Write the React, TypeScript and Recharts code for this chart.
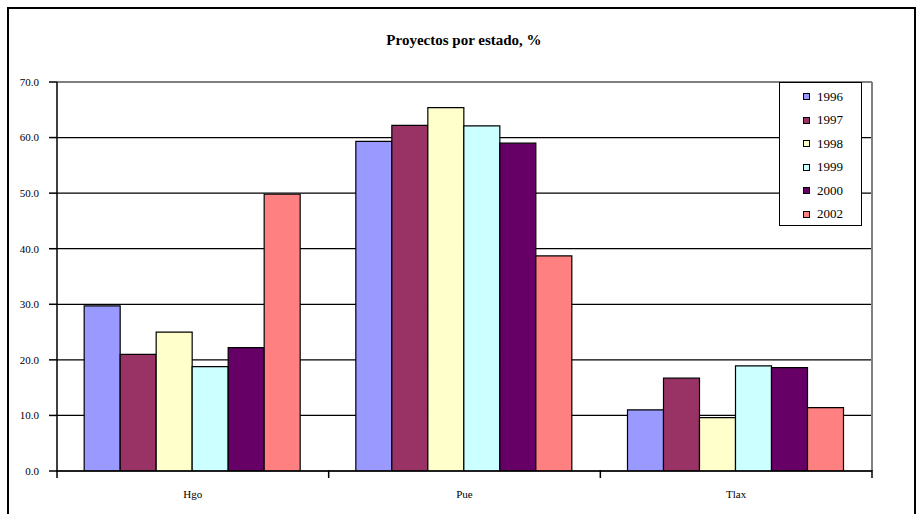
import React from "react";
import {
  BarChart,
  Bar,
  XAxis,
  YAxis,
  CartesianGrid,
  ReferenceLine,
} from "recharts";

const categories = ["Hgo", "Pue", "Tlax"];
const years = ["1996", "1997", "1998", "1999", "2000", "2002"];
const v1996 = [29.7, 59.3, 11.0];
const v1997 = [21.0, 62.2, 16.7];
const v1998 = [25.0, 65.4, 9.6];
const v1999 = [18.8, 62.1, 18.9];
const v2000 = [22.2, 59.0, 18.6];
const v2002 = [49.8, 38.7, 11.4];
const yTicks = [0, 10, 20, 30, 40, 50, 60, 70];
const colors = ["#9999FF", "#993366", "#FFFFCC", "#CCFFFF", "#660066", "#FF8080"];

const seriesValues = [v1996, v1997, v1998, v1999, v2000, v2002];

const data = categories.map((c, i) => {
  const row: Record<string, any> = { name: c };
  years.forEach((y, k) => {
    row[y] = seriesValues[k][i];
  });
  return row;
});

const FONT = "'Liberation Serif', 'Times New Roman', serif";

const XTick = (props: any) => {
  const { x, y, payload, index, width } = props;
  const half =
    payload && typeof payload.offset === "number" && payload.offset > 0
      ? payload.offset
      : width / categories.length / 2;
  const isLast = index === categories.length - 1;
  return (
    <g>
      <line x1={x - half} x2={x - half} y1={y - 1} y2={y + 7} stroke="#000" strokeWidth={1.5} />
      {isLast && (
        <line x1={x + half} x2={x + half} y1={y - 1} y2={y + 7} stroke="#000" strokeWidth={1.5} />
      )}
      <text
        x={x}
        y={y + 27}
        textAnchor="middle"
        fontSize={11}
        fontFamily={FONT}
        fill="#000"
      >
        {payload.value}
      </text>
    </g>
  );
};

const LegendBox = () => (
  <div
    style={{
      position: "absolute",
      left: 779,
      top: 82,
      width: 83,
      height: 144,
      border: "1px solid #000",
      background: "#fff",
      boxSizing: "border-box",
      paddingTop: 2,
      fontFamily: FONT,
      fontSize: 13,
      color: "#000",
    }}
  >
    {years.map((y, i) => (
      <div
        key={y}
        style={{
          height: 23.5,
          display: "flex",
          alignItems: "center",
          paddingLeft: 23,
        }}
      >
        <span
          style={{
            display: "inline-block",
            width: 5,
            height: 5,
            border: "1px solid #000",
            background: colors[i],
            marginRight: 7,
          }}
        />
        <span>{y}</span>
      </div>
    ))}
  </div>
);

export default function App() {
  return (
    <div
      style={{
        position: "absolute",
        left: 0,
        top: 0,
        width: 919,
        height: 514,
        overflow: "hidden",
        background: "#fff",
      }}
    >
      <div
        style={{
          position: "absolute",
          left: 7,
          top: 7,
          width: 909,
          height: 600,
          border: "2px solid #000",
          boxSizing: "border-box",
        }}
      />
      <div
        style={{
          position: "absolute",
          left: 0,
          top: 32,
          width: 928,
          textAlign: "center",
          fontFamily: FONT,
          fontWeight: "bold",
          fontSize: 15,
          color: "#000",
        }}
      >
        Proyectos por estado, %
      </div>
      <div style={{ position: "absolute", left: 0, top: 0 }}>
        <BarChart
          width={919}
          height={514}
          data={data}
          margin={{ top: 82, right: 46, bottom: 13, left: 7 }}
          barCategoryGap="10%"
          barGap={0}
        >
          <CartesianGrid vertical={false} stroke="#000" strokeWidth={1.2} yAxisId="l" />
          <XAxis
            dataKey="name"
            height={30}
            tickLine={false}
            tickSize={0}
            tickMargin={0}
            axisLine={{ stroke: "#000", strokeWidth: 1.5 }}
            tick={<XTick />}
            interval={0}
          />
          <YAxis
            yAxisId="l"
            width={50}
            domain={[0, 70]}
            ticks={yTicks}
            tickFormatter={(v: number) => v.toFixed(1)}
            tickSize={8}
            tickMargin={10}
            tickLine={{ stroke: "#000", strokeWidth: 1.5 }}
            axisLine={{ stroke: "#000", strokeWidth: 1.5 }}
            tick={{ fontSize: 11, fontFamily: FONT, fill: "#000" }}
            allowDataOverflow
          />
          <YAxis
            yAxisId="r"
            orientation="right"
            width={1}
            domain={[0, 70]}
            tick={false}
            tickLine={false}
            axisLine={{ stroke: "#808080", strokeWidth: 2 }}
          />
          <ReferenceLine y={70} yAxisId="l" stroke="#808080" strokeWidth={2} />
          {years.map((y, k) => (
            <Bar
              key={y}
              yAxisId="l"
              dataKey={y}
              name={y}
              fill={colors[k]}
              stroke="#000"
              strokeWidth={1.2}
              isAnimationActive={false}
            />
          ))}
        </BarChart>
      </div>
      <LegendBox />
    </div>
  );
}
